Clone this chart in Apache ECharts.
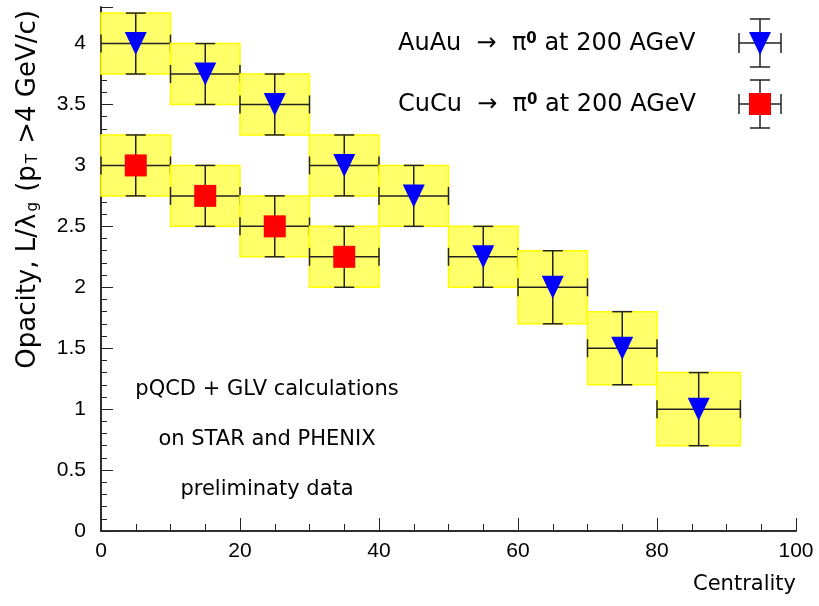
<!DOCTYPE html>
<html>
<head>
<meta charset="utf-8">
<script src="https://cdn.jsdelivr.net/npm/echarts@6/dist/echarts.min.js"></script>
<style>
  html, body { margin: 0; padding: 0; background: #fff; }
  #main { width: 819px; height: 606px; }
</style>
</head>
<body>
<div id="main"></div>
<script>
// AuAu -> pi0 (blue triangles)
var auauX = [5, 15, 25, 35, 45, 55, 65, 75, 86];
var auauLow = [0, 10, 20, 30, 40, 50, 60, 70, 80];
var auauHigh = [10, 20, 30, 40, 50, 60, 70, 80, 92];
var auauY = [4.0, 3.75, 3.5, 3.0, 2.75, 2.25, 2.0, 1.5, 1.0];
var auauErr = [0.25, 0.25, 0.25, 0.25, 0.25, 0.25, 0.3, 0.3, 0.3];

// CuCu -> pi0 (red squares)
var cucuX = [5, 15, 25, 35];
var cucuLow = [0, 10, 20, 30];
var cucuHigh = [10, 20, 30, 40];
var cucuY = [3.0, 2.75, 2.5, 2.25];
var cucuErr = [0.25, 0.25, 0.25, 0.25];

var xTicks = [0, 20, 40, 60, 80, 100];
var yTicks = [0, 0.5, 1, 1.5, 2, 2.5, 3, 3.5, 4];

var NUMFONT = '"Liberation Sans", Arial, sans-serif';
var FONT = '"DejaVu Sans", sans-serif';
var LINE = '#222';

function build(xs, lo, hi, ys, es) {
    var out = [];
    for (var i = 0; i < xs.length; i++) {
        out.push([xs[i], ys[i], lo[i], hi[i], es[i]]);
    }
    return out;
}

// Fehlerbox + Fehlerbalken
function renderBox(params, api) {
    var x = api.value(0), y = api.value(1), lo = api.value(2), hi = api.value(3), e = api.value(4);
    var p1 = api.coord([lo, y + e]);
    var p2 = api.coord([hi, y - e]);
    var c = api.coord([x, y]);
    var ls = { stroke: LINE, lineWidth: 1.5 };
    return {
        type: 'group',
        children: [
            { type: 'rect', shape: { x: p1[0], y: p1[1], width: p2[0] - p1[0], height: p2[1] - p1[1] },
              style: { fill: '#ffff6a', stroke: '#ffff00', lineWidth: 1.5 } },
            { type: 'line', shape: { x1: p1[0], y1: c[1], x2: p2[0], y2: c[1] }, style: ls },
            { type: 'line', shape: { x1: c[0], y1: p1[1], x2: c[0], y2: p2[1] }, style: ls },
            { type: 'line', shape: { x1: c[0] - 10, y1: p1[1], x2: c[0] + 10, y2: p1[1] }, style: ls },
            { type: 'line', shape: { x1: c[0] - 10, y1: p2[1], x2: c[0] + 10, y2: p2[1] }, style: ls },
            { type: 'line', shape: { x1: p1[0], y1: c[1] - 9, x2: p1[0], y2: c[1] + 9 }, style: ls },
            { type: 'line', shape: { x1: p2[0], y1: c[1] - 9, x2: p2[0], y2: c[1] + 9 }, style: ls }
        ]
    };
}

function legendSymbol(cx, cy, kind) {
    var ls = { stroke: LINE, lineWidth: 1.5 };
    var kids = [
        { type: 'line', shape: { x1: cx - 21, y1: cy, x2: cx + 21, y2: cy }, style: ls },
        { type: 'line', shape: { x1: cx, y1: cy - 24, x2: cx, y2: cy + 24 }, style: ls },
        { type: 'line', shape: { x1: cx - 10, y1: cy - 24, x2: cx + 10, y2: cy - 24 }, style: ls },
        { type: 'line', shape: { x1: cx - 10, y1: cy + 24, x2: cx + 10, y2: cy + 24 }, style: ls },
        { type: 'line', shape: { x1: cx - 21, y1: cy - 10, x2: cx - 21, y2: cy + 10 }, style: ls },
        { type: 'line', shape: { x1: cx + 21, y1: cy - 10, x2: cx + 21, y2: cy + 10 }, style: ls }
    ];
    if (kind === 'tri') {
        kids.push({ type: 'polygon', shape: { points: [[cx - 11, cy - 11], [cx + 11, cy - 11], [cx, cy + 12]] }, style: { fill: '#0000ff' } });
    } else {
        kids.push({ type: 'rect', shape: { x: cx - 11, y: cy - 11, width: 22, height: 22 }, style: { fill: '#ff0000' } });
    }
    return { type: 'group', children: kids, z: 100 };
}

var richLegend = {
    t: { fontSize: 24, fontFamily: FONT, color: '#000' },
    sup: { fontSize: 15, fontFamily: FONT, fontWeight: 'bold', color: '#000', verticalAlign: 'top', padding: [0, 0, 10, 0] }
};

var chart = echarts.init(document.getElementById('main'));
var option = {
    animation: false,
    backgroundColor: '#fff',
    grid: { left: 101, right: 23, top: 7, bottom: 75 },
    xAxis: [{
        type: 'value', min: 0, max: 100, interval: 20,
        axisLine: { show: true, onZero: false, lineStyle: { color: LINE, width: 1.5 } },
        axisTick: { show: true, inside: true, length: 13, lineStyle: { color: LINE } },
        minorTick: { show: true, splitNumber: 4, length: 7, lineStyle: { color: LINE } },
        splitLine: { show: false },
        axisLabel: { margin: 10, fontSize: 21, fontFamily: NUMFONT, color: '#000',
            formatter: function (v) { return xTicks.indexOf(v) >= 0 ? String(v) : ''; } }
    }, {
        type: 'value', min: 0, max: 100, position: 'top',
        axisLine: { show: true, lineStyle: { color: LINE, width: 1.5 } },
        axisTick: { show: false }, axisLabel: { show: false }, splitLine: { show: false }
    }],
    yAxis: [{
        type: 'value', min: 0, max: 4.3, interval: 0.5, offset: 5,
        axisLine: { show: true, lineStyle: { color: LINE, width: 1.5 } },
        axisTick: { show: true, inside: true, length: 12, lineStyle: { color: LINE } },
        minorTick: { show: true, splitNumber: 5, length: 6, lineStyle: { color: LINE } },
        splitLine: { show: false },
        axisLabel: { margin: 10, fontSize: 21, fontFamily: NUMFONT, color: '#000',
            formatter: function (v) {
                for (var i = 0; i < yTicks.length; i++) {
                    if (Math.abs(yTicks[i] - v) < 1e-6) return String(yTicks[i]);
                }
                return '';
            } }
    }, {
        type: 'value', min: 0, max: 4.3, position: 'right',
        axisLine: { show: true, lineStyle: { color: LINE, width: 1.5 } },
        axisTick: { show: false }, axisLabel: { show: false }, splitLine: { show: false }
    }],
    series: [{
        type: 'custom', name: 'AuAu box', renderItem: renderBox, z: 2,
        data: build(auauX, auauLow, auauHigh, auauY, auauErr)
    }, {
        type: 'custom', name: 'CuCu box', renderItem: renderBox, z: 2,
        data: build(cucuX, cucuLow, cucuHigh, cucuY, cucuErr)
    }, {
        type: 'scatter', name: 'AuAu', z: 5,
        symbol: 'triangle', symbolRotate: 180, symbolSize: [22, 23],
        itemStyle: { color: '#0000ff', opacity: 1 },
        data: auauX.map(function (x, i) { return [x, auauY[i]]; })
    }, {
        type: 'scatter', name: 'CuCu', z: 5,
        symbol: 'rect', symbolSize: 22,
        itemStyle: { color: '#ff0000', opacity: 1 },
        data: cucuX.map(function (x, i) { return [x, cucuY[i]]; })
    }],
    graphic: [
        {
            type: 'text', x: 28, y: 10, rotation: Math.PI / 2,
            style: {
                text: '{t|Opacity, L/λ}{s|g}{t| (p}{s|T}{t| >4 GeV/c)}',
                align: 'right', verticalAlign: 'middle',
                rich: {
                    t: { fontSize: 26, fontFamily: FONT, color: '#000' },
                    s: { fontSize: 15, fontFamily: FONT, color: '#000', verticalAlign: 'bottom', padding: [9, 2, 0, 2] }
                }
            }
        },
        {
            type: 'text', x: 796, y: 585,
            style: { text: 'Centrality', fontSize: 21, fontFamily: FONT, fill: '#000', align: 'right', verticalAlign: 'middle' }
        },
        {
            type: 'text', x: 398, y: 44,
            style: { text: '{t|AuAu  →  π}{sup|0}{t| at 200 AGeV}', align: 'left', verticalAlign: 'middle', rich: richLegend }
        },
        {
            type: 'text', x: 398, y: 105,
            style: { text: '{t|CuCu  →  π}{sup|0}{t| at 200 AGeV}', align: 'left', verticalAlign: 'middle', rich: richLegend }
        },
        legendSymbol(760, 43, 'tri'),
        legendSymbol(760, 104, 'sq'),
        {
            type: 'text', x: 267, y: 390,
            style: { text: 'pQCD + GLV calculations', fontSize: 21, fontFamily: FONT, fill: '#000', align: 'center', verticalAlign: 'middle' }
        },
        {
            type: 'text', x: 267, y: 440,
            style: { text: 'on STAR and PHENIX', fontSize: 21, fontFamily: FONT, fill: '#000', align: 'center', verticalAlign: 'middle' }
        },
        {
            type: 'text', x: 267, y: 490,
            style: { text: 'preliminaty data', fontSize: 21, fontFamily: FONT, fill: '#000', align: 'center', verticalAlign: 'middle' }
        }
    ]
};
chart.setOption(option);
</script>
</body>
</html>
